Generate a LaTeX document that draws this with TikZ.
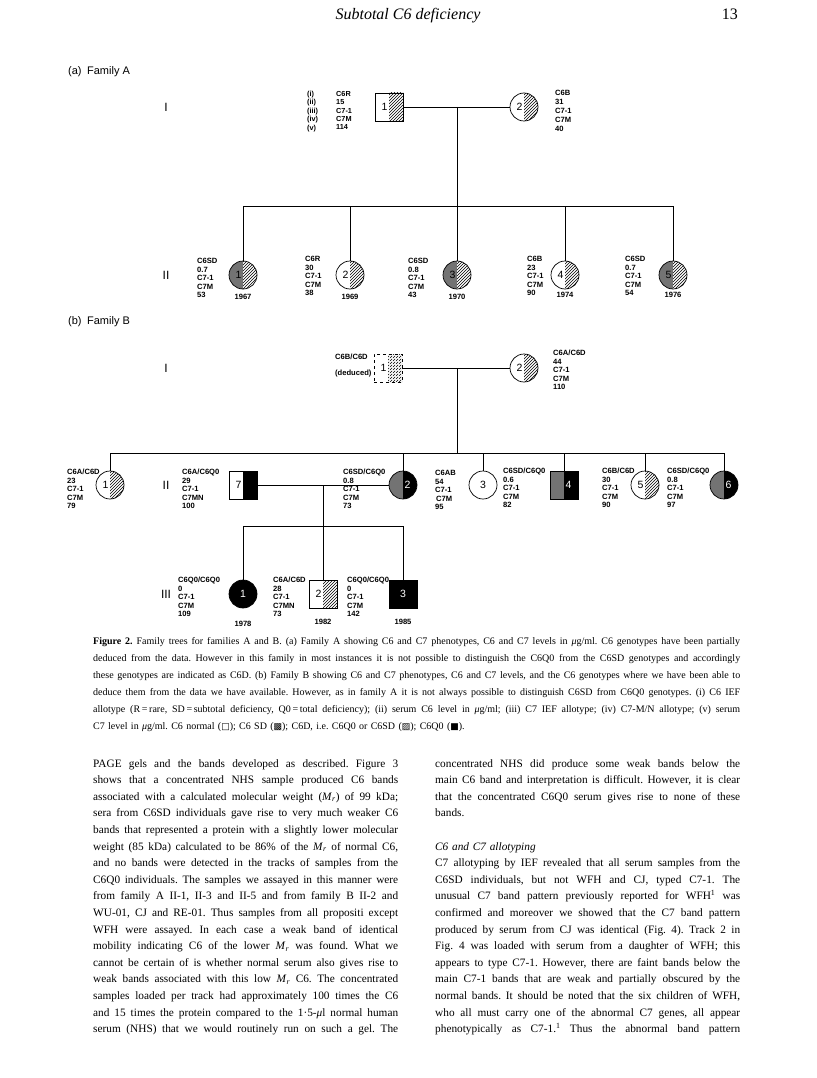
\documentclass[tikz,border=0pt]{standalone}
\usepackage{fontspec}
\setmainfont{Liberation Serif}
\setsansfont{Liberation Sans}
\newfontfamily\symfont{DejaVu Sans}
\usetikzlibrary{patterns,positioning}
\frenchspacing

\newcommand\lnum[1]{\makebox[0pt][r]{#1\hspace{1.5pt}}}
\newcommand\rnum[1]{\makebox[0pt][l]{\hspace{1.5pt}#1}}
\newcommand\Mr{\textit{M}\textsubscript{\textit{r}}}
\newcommand\jline[2][305pt]{\makebox[#1][s]{\spaceskip=0pt\xspaceskip=0pt #2}\\}

\tikzset{
  person/.style={draw, line width=0.7pt, minimum size=28pt, inner sep=0pt,
    font=\sffamily\fontsize{10.5}{11}\selectfont},
  fem/.style={person, circle},
  male/.style={person, rectangle},
  hatchR/.style={path picture={
    \fill[pattern=north east lines] (path picture bounding box.north) rectangle (path picture bounding box.south east);}},
  sdhatch/.style={path picture={
    \fill[black!55] (path picture bounding box.north west) rectangle (path picture bounding box.south);
    \fill[pattern=north east lines] (path picture bounding box.north) rectangle (path picture bounding box.south east);}},
  blackR/.style={path picture={
    \fill[black] (path picture bounding box.north) rectangle (path picture bounding box.south east);}},
  sdblack/.style={text=white, path picture={
    \fill[black!55] (path picture bounding box.north west) rectangle (path picture bounding box.south);
    \fill[black] (path picture bounding box.north) rectangle (path picture bounding box.south east);}},
  q0/.style={fill=black, text=white},
  info/.style={font=\sffamily\bfseries\fontsize{7.6}{8.5}\selectfont, align=left, inner sep=0pt, anchor=north west},
  year/.style={font=\sffamily\bfseries\fontsize{7.6}{8.5}\selectfont, inner sep=0pt},
  gen/.style={font=\sffamily\fontsize{12}{12}\selectfont, inner sep=0pt},
  famlabel/.style={font=\sffamily\fontsize{11}{11}\selectfont, anchor=west, inner sep=0pt},
  line/.style={line width=0.7pt},
  body/.style={inner sep=0pt, anchor=base west, text width=305pt, align=left,
    font=\fontsize{11.3}{16.6}\selectfont}
}

\begin{document}
\begin{tikzpicture}[x=1pt, y=1pt]
  \useasboundingbox (0,0) rectangle (816,-1078);
  \fill[white] (0,0) rectangle (816,-1078);

  % running head
  \node[anchor=base, font=\itshape\fontsize{16}{16}\selectfont, inner sep=0pt] (head) at (408,-20) {Subtotal C6 deficiency};
  \node[anchor=base east, font=\fontsize{16}{16}\selectfont, inner sep=0pt] (page) at (738,-20) {13};

  % (a) Family A
  \node[famlabel] (famA) at (68,-72) {(a)\enspace Family A};
  \node[gen] (gA1) at (166,-107) {I};
  \node[gen] (gA2) at (166,-275) {II};

  \node[male, hatchR] (a1) at (389,-107) {\lnum{1}};
  \node[fem, hatchR] (a2) at (524,-107) {\lnum{2}};
  \node[info, font=\sffamily\bfseries\fontsize{7.3}{8.4}\selectfont] (keyA) at (307,-91) {(i)\\(ii)\\(iii)\\(iv)\\(v)};
  \node[info, font=\sffamily\bfseries\fontsize{7.3}{8.4}\selectfont] (ia1) at (336,-91) {C6R\\15\\C7-1\\C7M\\114};
  \node[info, font=\sffamily\bfseries\fontsize{7.6}{9.1}\selectfont] (ia2) at (555,-90) {C6B\\31\\C7-1\\C7M\\40};

  \coordinate (amate) at (457,-107);
  \coordinate (asib) at (457,-206);
  \draw[line] (a1) -- (a2);
  \draw[line] (amate) -- (asib);

  \foreach \n/\x/\s in {1/243/sdhatch, 2/350/hatchR, 3/457/sdhatch, 4/565/hatchR, 5/673/sdhatch} {
    \node[fem, \s] (a2\n) at (\x,-275) {\lnum{\n}};
  }
  \draw[line] (a21.north) -- (a21.north |- asib) -- (a25.north |- asib) -- (a25.north);
  \foreach \n in {2,3,4} {
    \draw[line] (a2\n.north) -- (a2\n.north |- asib);
  }

  \node[info] (ia21) at (197,-258) {C6SD\\0.7\\C7-1\\C7M\\53};
  \node[info] (ia22) at (305,-256) {C6R\\30\\C7-1\\C7M\\38};
  \node[info] (ia23) at (408,-258) {C6SD\\0.8\\C7-1\\C7M\\43};
  \node[info] (ia24) at (527,-256) {C6B\\23\\C7-1\\C7M\\90};
  \node[info] (ia25) at (625,-256) {C6SD\\0.7\\C7-1\\C7M\\54};

  \node[year, below=5pt of a21] (ya21) {1967};
  \node[year, below=5pt of a22] (ya22) {1969};
  \node[year, below=5pt of a23] (ya23) {1970};
  \node[year, below=3pt of a24] (ya24) {1974};
  \node[year, below=3pt of a25] (ya25) {1976};

  % (b) Family B
  \node[famlabel] (famB) at (68,-322) {(b)\enspace Family B};
  \node[gen] (gB1) at (166,-368) {I};
  \node[gen] (gB2) at (166,-485) {II};
  \node[gen] (gB3) at (166,-594) {III};

  \node[male, dashed, hatchR] (b1) at (388,-368) {\lnum{1}};
  \node[fem, hatchR] (b2) at (524,-368) {\lnum{2}};
  \node[info] (ib1) at (335,-354) {C6B/C6D\\[7pt](deduced)};
  \node[info] (ib2) at (553,-350) {C6A/C6D\\44\\C7-1\\C7M\\110};

  \coordinate (bmate) at (457,-368);
  \coordinate (bsib) at (457,-453);
  \draw[line] (b1) -- (b2);
  \draw[line] (bmate) -- (bsib);

  \node[fem, hatchR] (b21) at (110,-485) {\lnum{1}};
  \node[male, blackR] (b27) at (243,-485) {\lnum{7}};
  \node[fem, sdblack] (b22) at (403,-485) {\rnum{2}};
  \node[fem] (b23) at (483,-485) {3};
  \node[male, sdblack] (b24) at (564,-485) {\rnum{4}};
  \node[fem, hatchR] (b25) at (645,-485) {\lnum{5}};
  \node[fem, sdblack] (b26) at (724,-485) {\rnum{6}};

  \draw[line] (b21.north) -- (b21.north |- bsib) -- (b26.north |- bsib) -- (b26.north);
  \foreach \n in {2,3,4,5} {
    \draw[line] (b2\n.north) -- (b2\n.north |- bsib);
  }

  \node[info] (ib21) at (67,-469) {C6A/C6D\\23\\C7-1\\C7M\\79};
  \node[info] (ib27) at (182,-469) {C6A/C6Q0\\29\\C7-1\\C7MN\\100};
  \node[info] (ib22) at (343,-469) {C6SD/C6Q0\\0.8\\C7-1\\C7M\\73};
  \node[info] (ib23) at (435,-470) {C6AB\\54\\C7-1\\\hspace{1pt}C7M\\95};
  \node[info] (ib24) at (503,-468) {C6SD/C6Q0\\0.6\\C7-1\\C7M\\82};
  \node[info] (ib25) at (602,-468) {C6B/C6D\\30\\C7-1\\C7M\\90};
  \node[info] (ib26) at (667,-468) {C6SD/C6Q0\\0.8\\C7-1\\C7M\\97};

  \coordinate (bmate2) at (323,-485);
  \coordinate (bsib2) at (323,-526);
  \draw[line] (b27) -- (b22);

  \node[fem, q0] (b31) at (243,-594) {1};
  \node[male, hatchR] (b32) at (323,-594) {\lnum{2}};
  \node[male, q0] (b33) at (403,-594) {3};

  \draw[line] (bmate2) -- (b32.north);
  \draw[line] (b31.north) -- (b31.north |- bsib2) -- (b33.north |- bsib2) -- (b33.north);

  \node[info] (ib31) at (178,-577) {C6Q0/C6Q0\\0\\C7-1\\C7M\\109};
  \node[info] (ib32) at (273,-577) {C6A/C6D\\28\\C7-1\\C7MN\\73};
  \node[info] (ib33) at (347,-577) {C6Q0/C6Q0\\0\\C7-1\\C7M\\142};

  \node[year, below=13pt of b31] (yb31) {1978};
  \node[year, below=11pt of b32] (yb32) {1982};
  \node[year, below=11pt of b33] (yb33) {1985};

  % caption
  \node[body, text width=647pt, font=\fontsize{10}{17}\selectfont] (caption) at (93,-644) {%
    \jline[647pt]{\textbf{Figure 2.} Family trees for families A and B. (a) Family A showing C6 and C7 phenotypes, C6 and C7 levels in \textit{μ}g/ml. C6 genotypes have been partially}
    \jline[647pt]{deduced from the data. However in this family in most instances it is not possible to distinguish the C6Q0 from the C6SD genotypes and accordingly}
    \jline[647pt]{these genotypes are indicated as C6D. (b) Family B showing C6 and C7 phenotypes, C6 and C7 levels, and the C6 genotypes where we have been able to}
    \jline[647pt]{deduce them from the data we have available. However, as in family A it is not always possible to distinguish C6SD from C6Q0 genotypes. (i) C6 IEF}
    \jline[647pt]{allotype (R\,=\,rare, SD\,=\,subtotal deficiency, Q0\,=\,total deficiency); (ii) serum C6 level in \textit{μ}g/ml; (iii) C7 IEF allotype; (iv) C7-M/N allotype; (v) serum}
    C7 level in \textit{μ}g/ml. C6 normal ({\symfont\small □}); C6 SD ({\symfont\small ▩}); C6D, i.e. C6Q0 or C6SD ({\symfont\small ▨}); C6Q0 ({\symfont\small ■}).};

  % left column
  \node[body] (colL) at (93,-767) {%
    \jline{PAGE gels and the bands developed as described. Figure 3}
    \jline{shows that a concentrated NHS sample produced C6 bands}
    \jline{associated with a calculated molecular weight (\Mr) of 99 kDa;}
    \jline{sera from C6SD individuals gave rise to very much weaker C6}
    \jline{bands that represented a protein with a slightly lower molecular}
    \jline{weight (85 kDa) calculated to be 86\% of the \Mr\ of normal C6,}
    \jline{and no bands were detected in the tracks of samples from the}
    \jline{C6Q0 individuals. The samples we assayed in this manner were}
    \jline{from family A II-1, II-3 and II-5 and from family B II-2 and}
    \jline{WU-01, CJ and RE-01. Thus samples from all propositi except}
    \jline{WFH were assayed. In each case a weak band of identical}
    \jline{mobility indicating C6 of the lower \Mr\ was found. What we}
    \jline{cannot be certain of is whether normal serum also gives rise to}
    \jline{weak bands associated with this low \Mr\ C6. The concentrated}
    \jline{samples loaded per track had approximately 100 times the C6}
    \jline{and 15 times the protein compared to the 1·5-\textit{μ}l normal human}
    \jline{serum (NHS) that we would routinely run on such a gel. The}};

  % right column
  \node[body] (colR) at (435,-767) {%
    \jline{concentrated NHS did produce some weak bands below the}
    \jline{main C6 band and interpretation is difficult. However, it is clear}
    \jline{that the concentrated C6Q0 serum gives rise to none of these}
    bands.\\[16.6pt]
    \textit{C6 and C7 allotyping}\\
    \jline{C7 allotyping by IEF revealed that all serum samples from the}
    \jline{C6SD individuals, but not WFH and CJ, typed C7-1. The}
    \jline{unusual C7 band pattern previously reported for WFH\textsuperscript{1} was}
    \jline{confirmed and moreover we showed that the C7 band pattern}
    \jline{produced by serum from CJ was identical (Fig. 4). Track 2 in}
    \jline{Fig. 4 was loaded with serum from a daughter of WFH; this}
    \jline{appears to type C7-1. However, there are faint bands below the}
    \jline{main C7-1 bands that are weak and partially obscured by the}
    \jline{normal bands. It should be noted that the six children of WFH,}
    \jline{who all must carry one of the abnormal C7 genes, all appear}
    \jline{phenotypically as C7-1.\textsuperscript{1} Thus the abnormal band pattern}};
\end{tikzpicture}
\end{document}
